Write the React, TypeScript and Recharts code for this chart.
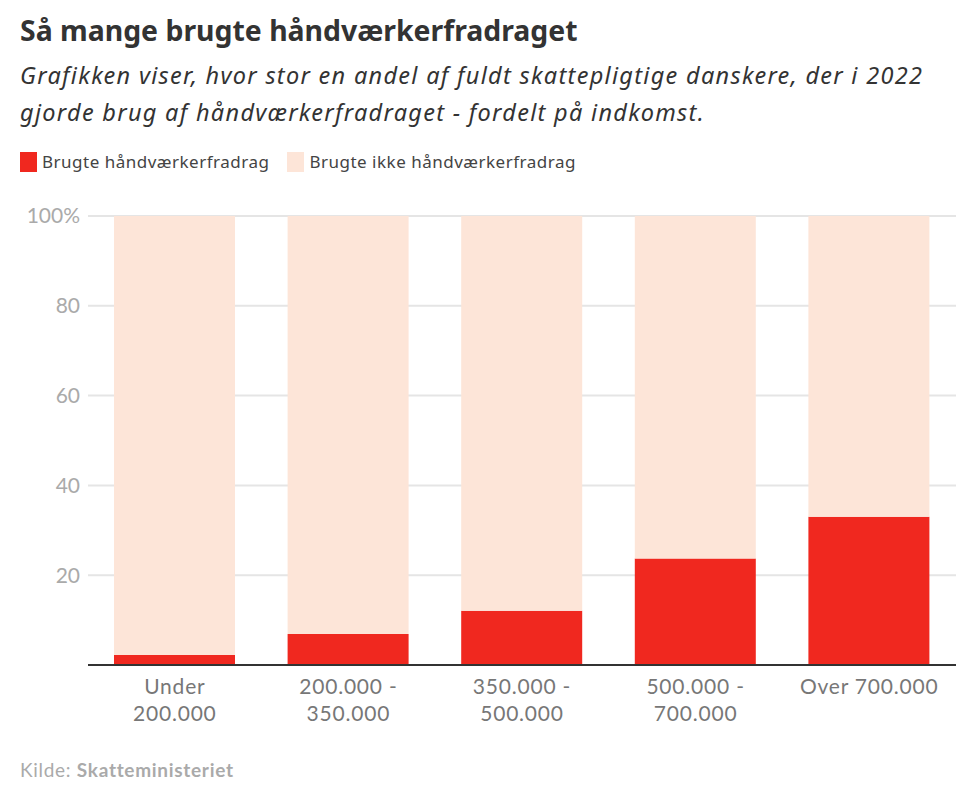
import { BarChart, Bar, XAxis, YAxis, CartesianGrid } from "recharts";

const categories = ["Under 200.000", "200.000 - 350.000", "350.000 - 500.000", "500.000 - 700.000", "Over 700.000"];
const tickLines = [["Under", "200.000"], ["200.000 -", "350.000"], ["350.000 -", "500.000"], ["500.000 -", "700.000"], ["Over 700.000"]];
const used = [2.2, 6.9, 12.1, 23.7, 33.0];
const notUsed = used.map((v) => 100 - v);
const yTicks = [20, 40, 60, 80, 100];

const RED = "#f0281f";
const PEACH = "#fde5d8";

const data = categories.map((name, i) => ({ name, used: used[i], notUsed: notUsed[i] }));

function XTick({ x, y, index }: { x?: number; y?: number; index?: number }) {
  const lines = tickLines[index ?? 0] ?? [];
  return (
    <g>
      {lines.map((l, i) => (
        <text
          key={i}
          x={x}
          y={(y ?? 0) + 21 + i * 27}
          textAnchor="middle"
          fill="#777"
          fontSize={21}
          letterSpacing={0.8}
          fontFamily="Lato, 'Noto Sans', sans-serif"
        >
          {l}
        </text>
      ))}
    </g>
  );
}

function LegendItem({ color, label }: { color: string; label: string }) {
  return (
    <span style={{ display: "inline-flex", alignItems: "center", marginRight: 18 }}>
      <span style={{ width: 17, height: 20, background: color, display: "inline-block", marginRight: 5 }} />
      <span>{label}</span>
    </span>
  );
}

export default function App() {
  return (
    <div style={{ position: "fixed", left: 0, top: 0, width: 972, height: 794, background: "#fff", fontFamily: "'Noto Sans', sans-serif" }}>
      <div style={{ position: "absolute", left: 20, top: 11, fontSize: 28.4, fontWeight: 700, color: "#333", whiteSpace: "nowrap" }}>
        Så mange brugte håndværkerfradraget
      </div>
      <div style={{ position: "absolute", left: 20, top: 57, width: 950, fontSize: 23.5, fontStyle: "italic", color: "#333", lineHeight: "37px", letterSpacing: 1.3, whiteSpace: "nowrap" }}>
        Grafikken viser, hvor stor en andel af fuldt skattepligtige danskere, der i 2022
        <br />
        gjorde brug af håndværkerfradraget - fordelt på indkomst.
      </div>
      <div style={{ position: "absolute", left: 20, top: 150, fontSize: 17, letterSpacing: 0.5, color: "#444", display: "flex", whiteSpace: "nowrap" }}>
        <LegendItem color={RED} label="Brugte håndværkerfradrag" />
        <LegendItem color={PEACH} label="Brugte ikke håndværkerfradrag" />
      </div>
      <div style={{ position: "absolute", left: 0, top: 0 }}>
        <BarChart width={972} height={760} data={data} margin={{ top: 216, right: 16, left: 0, bottom: 15 }} barSize={121}>
          <CartesianGrid vertical={false} stroke="#e5e5e5" strokeWidth={2} />
          <YAxis
            domain={[0, 100]}
            ticks={yTicks}
            width={88}
            axisLine={false}
            tickLine={false}
            tickFormatter={(v: number) => (v === 100 ? "100%" : String(v))}
            tick={{ fontSize: 21, fill: "#aaa", fontFamily: "Lato, 'Noto Sans', sans-serif" }}
          />
          <XAxis
            dataKey="name"
            height={80}
            interval={0}
            tickLine={false}
            axisLine={{ stroke: "#333", strokeWidth: 2 }}
            tick={<XTick />}
          />
          <Bar dataKey="used" stackId="a" fill={RED} isAnimationActive={false} />
          <Bar dataKey="notUsed" stackId="a" fill={PEACH} isAnimationActive={false} />
        </BarChart>
      </div>
      <div style={{ position: "absolute", left: 20, top: 758, fontSize: 19, letterSpacing: 0.7, color: "#aaa", fontFamily: "Lato, 'Noto Sans', sans-serif" }}>
        Kilde: <b>Skatteministeriet</b>
      </div>
    </div>
  );
}
